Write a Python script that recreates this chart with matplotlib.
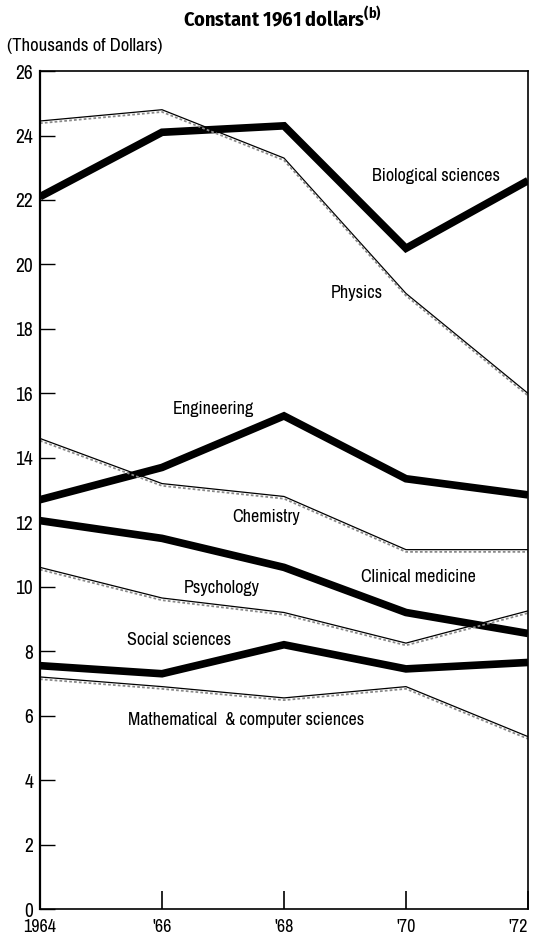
import matplotlib
matplotlib.use("Agg")
import matplotlib.pyplot as plt
import matplotlib.transforms as mtransforms

plt.rcParams['font.family'] = ['Archivo Narrow', 'DejaVu Sans']

years = [1964, 1966, 1968, 1970, 1972]
year_labels = ['1964', "'66", "'68", "'70", "'72"]

# Thick series
biological = [22.1, 24.1, 24.3, 20.5, 22.6]
engineering = [12.7, 13.7, 15.3, 13.35, 12.85]
clinical = [12.05, 11.5, 10.6, 9.2, 8.55]
social = [7.55, 7.3, 8.2, 7.45, 7.65]

# Thin (double-stroke) series
physics = [24.45, 24.8, 23.3, 19.1, 16.0]
chemistry = [14.6, 13.2, 12.8, 11.15, 11.15]
psychology = [10.6, 9.65, 9.2, 8.25, 9.25]
math_cs = [7.2, 6.9, 6.55, 6.9, 5.35]

y_ticks = [0, 2, 4, 6, 8, 10, 12, 14, 16, 18, 20, 22, 24, 26]

fig = plt.figure(figsize=(5.35, 9.41), dpi=100)
ax = fig.add_axes([0.0748, 0.034, 0.912, 0.8905])

thick = dict(color='black', lw=5.5, solid_joinstyle='miter', solid_capstyle='butt')
for series in (biological, engineering, clinical, social):
    ax.plot(years, series, **thick)

shifted = mtransforms.offset_copy(ax.transData, fig=fig, x=0, y=-1.6, units='points')
for series in (physics, chemistry, psychology, math_cs):
    ax.plot(years, series, color='black', lw=0.9, solid_joinstyle='miter')
    ax.plot(years, series, color='#8a8a8a', lw=1.3, ls=(0, (1.5, 1.2)),
            transform=shifted)

label_kw = dict(fontsize=13, ha='center', va='center', color='black')
ax.text(1970.5, 22.75, 'Biological sciences', **label_kw)
ax.text(1969.2, 19.1, 'Physics', **label_kw)
ax.text(1966.85, 15.5, 'Engineering', **label_kw)
ax.text(1967.7, 12.17, 'Chemistry', **label_kw)
ax.text(1970.2, 10.3, 'Clinical medicine', **label_kw)
ax.text(1966.98, 9.97, 'Psychology', **label_kw)
ax.text(1966.28, 8.36, 'Social sciences', **label_kw)
ax.text(1967.38, 5.85, 'Mathematical  & computer sciences', **label_kw)

ax.set_xlim(1964, 1972)
ax.set_ylim(0, 26)
ax.set_xticks(years)
ax.set_xticklabels(year_labels)
ax.set_yticks(y_ticks)
ax.tick_params(axis='y', direction='in', length=11, width=1, labelsize=14, pad=5)
ax.tick_params(axis='x', direction='in', length=13, width=1.2, labelsize=13, pad=7)
xt = ax.get_xticklabels()
xt[-1].set_ha('right')
for s in ax.spines.values():
    s.set_linewidth(1.2)
ax.spines['left'].set_linewidth(1.6)

fig.text(0.527, 0.981, 'Constant 1961 dollars$^{\\mathregular{(b)}}$', ha='center', va='center',
         fontsize=14.5, fontweight='bold', family=['Fira Sans Condensed', 'DejaVu Sans'])
fig.text(0.013, 0.951, '(Thousands of Dollars)', ha='left', va='center', fontsize=13.5)

fig.savefig('out.png', dpi=100)
